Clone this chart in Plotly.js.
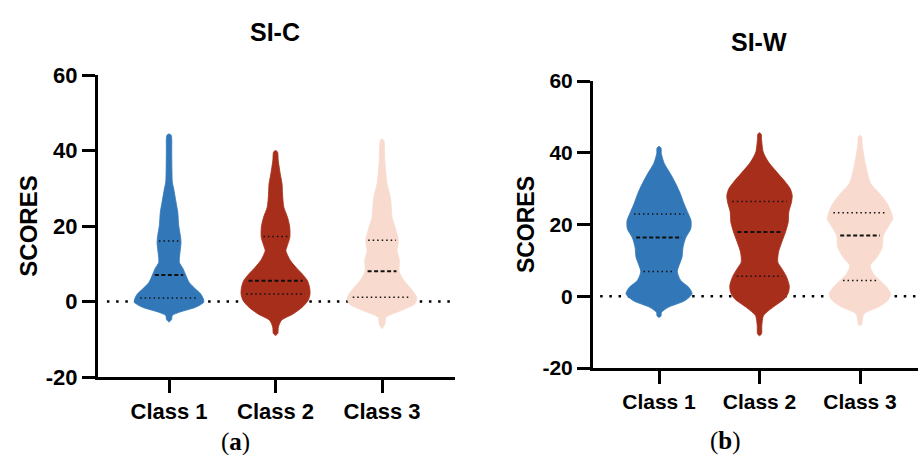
<!DOCTYPE html>
<html>
<head>
<meta charset="utf-8">
<script src="https://cdn.plot.ly/plotly-3.0.1.min.js"></script>
<style>html,body{margin:0;padding:0;background:#fff;}#chart{width:918px;height:455px;}</style>
</head>
<body>
<div id="chart"></div>
<script>
// ---------- DATA ----------
const classes = ['Class 1', 'Class 2', 'Class 3'];
const panelTitles = ['SI-C', 'SI-W'];
const captions = ['(<b>a</b>)', '(<b>b</b>)'];
const yTicks = [-20, 0, 20, 40, 60];
const yTickText = ['-20', '0', '20', '40', '60'];

// SI-C density profiles: score levels (top to bottom) and relative half-widths
const sicC1Level = [44.4, 44.1, 43, 40, 35, 31.6, 29.8, 26.3, 23.7, 20.1, 17.5, 15.7, 13.1, 10.4, 8.7, 7, 5.1, 3.35, 2, 0.9, -0.2, -1.5, -2.8, -3.7, -4.8, -5.5];
const sicC1Dens  = [0, 2, 2.7, 2.7, 2.9, 3.3, 4.7, 7, 8.7, 9.7, 11.3, 12, 11, 10.3, 14, 16.7, 20, 26.3, 31.7, 34, 34.7, 26.7, 10.8, 3.3, 2.5, 0];
const sicC2Level = [40, 39.6, 37.4, 33.8, 31.2, 28.5, 25, 22.3, 19.7, 17, 14.4, 13.5, 10.9, 9.1, 7.3, 5.6, 3.8, 2.0, 0.26, -1.5, -3.3, -5.0, -6.8, -8.5, -9.0];
const sicC2Dens  = [0, 2, 2.7, 4.7, 6.5, 7, 8.3, 12, 14.2, 14.3, 11.3, 10.3, 14.7, 20.3, 26.7, 31.7, 34, 34.5, 32.5, 26.7, 17.5, 5.8, 2.8, 2.2, 0];
const sicC3Level = [43.1, 42.6, 41.8, 36.5, 31.2, 27.6, 25, 22.3, 19.7, 16.2, 13.5, 10.9, 8, 5.6, 3.35, 1.15, -0.6, -2.4, -4.2, -6, -7.2];
const sicC3Dens  = [0, 1.8, 2.2, 3, 5, 8.3, 9.2, 10, 13, 16.3, 15, 17.3, 17, 21.7, 29, 34.5, 33, 19, 3.8, 2.8, 0];
const sicQ1     = [0.9, 2.0, 1.1];
const sicMedian = [7.0, 5.5, 8.0];
const sicQ3     = [16.0, 17.2, 16.2];

// SI-W density profiles
const siwC1Level = [41.8, 41.3, 39.8, 37, 34.2, 31.4, 28.6, 25.8, 23, 21.1, 18.8, 16.3, 13.7, 10.9, 6.9, 4.4, 2.5, 0.67, -1.2, -3.1, -4.5, -5.5, -5.9];
const siwC1Dens  = [0, 2, 2.3, 5.3, 11.3, 16.7, 21.3, 25, 29.3, 32, 31.7, 26.7, 24, 23, 18.3, 21.7, 29.7, 33, 26, 9.2, 2.5, 2, 0];
const siwC2Level = [45.6, 45.1, 44, 40.2, 37.4, 34.6, 31.8, 30, 28.1, 26.3, 23.5, 20.7, 17.9, 15.1, 12.3, 9.5, 7.7, 5.6, 3.0, 1.1, -0.7, -3.1, -5.4, -8.2, -10.5, -11];
const siwC2Dens  = [0, 1.8, 2, 3.7, 9, 17.3, 26, 30.7, 32.7, 32, 29.3, 28.7, 26, 22.3, 19, 18.3, 22.3, 26.7, 29.7, 29, 25, 13.3, 4, 2.3, 2, 0];
const siwC3Level = [44.9, 44.4, 42.6, 37, 31.4, 28.6, 25.8, 23.3, 21.6, 19.3, 16.9, 13.7, 10.9, 8.6, 6.3, 4.4, 2.5, 0.67, -1.2, -3.1, -4.9, -6.8, -7.8, -8.2];
const siwC3Dens  = [0, 1.8, 2, 5.3, 10.7, 19.7, 27.3, 31.3, 32.7, 28, 23.3, 22.3, 17, 10.3, 13.3, 20, 26.7, 30.7, 27.7, 17.5, 4, 2.2, 1.8, 0];
const siwQ1     = [6.9, 5.6, 4.4];
const siwMedian = [16.4, 17.9, 16.9];
const siwQ3     = [22.9, 26.4, 23.3];

const colors = ['#3278B8', '#A62E1B', '#F8DBCE'];

// ---------- BUILD ----------
const panels = [
  {levels: [sicC1Level, sicC2Level, sicC3Level], dens: [sicC1Dens, sicC2Dens, sicC3Dens],
   q1: sicQ1, med: sicMedian, q3: sicQ3, xa: 'x', ya: 'y', scale: 1 / 106.5},
  {levels: [siwC1Level, siwC2Level, siwC3Level], dens: [siwC1Dens, siwC2Dens, siwC3Dens],
   q1: siwQ1, med: siwMedian, q3: siwQ3, xa: 'x2', ya: 'y2', scale: 1 / 100.5}
];

function interp(lv, dn, q) {
  for (let k = 0; k < lv.length - 1; k++) {
    const a = lv[k], b = lv[k + 1];
    if ((q <= a && q >= b)) {
      const t = (a - q) / (a - b);
      return dn[k] + t * (dn[k + 1] - dn[k]);
    }
  }
  return 0;
}

const traces = [];
panels.forEach(p => {
  classes.forEach((c, i) => {
    const lv = p.levels[i], dn = p.dens[i];
    const xs = [], ys = [];
    for (let k = 0; k < lv.length; k++) { xs.push(i + dn[k] * p.scale); ys.push(lv[k]); }
    for (let k = lv.length - 1; k >= 0; k--) { xs.push(i - dn[k] * p.scale); ys.push(lv[k]); }
    traces.push({
      type: 'scatter', mode: 'lines', x: xs, y: ys, fill: 'toself',
      fillcolor: colors[i], line: {color: colors[i], width: 0.8, shape: 'spline', smoothing: 0.7},
      xaxis: p.xa, yaxis: p.ya, hoverinfo: 'skip', showlegend: false, name: c
    });
  });
  classes.forEach((c, i) => {
    const lv = p.levels[i], dn = p.dens[i];
    const stats = [[p.q1[i], '1.5px,3px', 1.5], [p.med[i], '4px,2.5px', 2], [p.q3[i], '1.5px,3px', 1.5]];
    stats.forEach(([q, dash, w]) => {
      const hw = interp(lv, dn, q) * p.scale * 0.85;
      traces.push({
        type: 'scatter', mode: 'lines', x: [i - hw, i + hw], y: [q, q],
        line: {color: '#111', width: w, dash: dash},
        xaxis: p.xa, yaxis: p.ya, hoverinfo: 'skip', showlegend: false
      });
    });
  });
});

const FONT = 'Liberation Sans, Arial, Helvetica, sans-serif';
function xAxis(domain, range, size) {
  return {
    domain: domain, range: range, tickmode: 'array', tickvals: [0, 1, 2], ticktext: classes,
    showline: true, linewidth: 3, linecolor: '#000', ticks: 'outside', ticklen: 13, tickwidth: 3,
    tickcolor: '#000', showgrid: false, zeroline: false, fixedrange: true,
    tickfont: {family: FONT, size: size, color: '#000', weight: 'bold'}
  };
}
function yAxis(domain, anchor, size, tsize) {
  return {
    domain: domain, anchor: anchor, range: [-20, 60], tickmode: 'array', tickvals: yTicks, ticktext: yTickText,
    showline: true, linewidth: 3, linecolor: '#000', ticks: 'outside', ticklen: 13, tickwidth: 3,
    tickcolor: '#000', showgrid: false, zeroline: false, fixedrange: true,
    tickfont: {family: FONT, size: size, color: '#000', weight: 'bold'},
    title: {text: 'SCORES', font: {family: FONT, size: tsize, color: '#000', weight: 'bold'}, standoff: 2}
  };
}

const layout = {
  width: 918, height: 455, margin: {l: 0, r: 0, t: 0, b: 0},
  paper_bgcolor: '#fff', plot_bgcolor: 'rgba(0,0,0,0)', showlegend: false,
  xaxis: Object.assign(xAxis([98 / 918, 455 / 918], [-0.667, 2.685], 22), {anchor: 'y'}),
  yaxis: yAxis([1 - 377 / 455, 1 - 75 / 455], 'x', 22, 24),
  xaxis2: Object.assign(xAxis([593 / 918, 1], [-0.657, 2.577], 21), {anchor: 'y2'}),
  yaxis2: yAxis([1 - 368 / 455, 1 - 81 / 455], 'x2', 21, 23),
  shapes: [
    {type: 'line', xref: 'x domain', yref: 'y', x0: 0.025, x1: 1, y0: 0, y1: 0, layer: 'below',
     line: {color: '#000', width: 2.5, dash: '2.5px,6.7px'}},
    {type: 'line', xref: 'x2 domain', yref: 'y2', x0: 0.022, x1: 1, y0: 0, y1: 0, layer: 'below',
     line: {color: '#000', width: 2.5, dash: '2.5px,6.7px'}}
  ],
  annotations: [
    {text: panelTitles[0], xref: 'paper', yref: 'paper', x: 275 / 918, y: 1 - 32 / 455, xanchor: 'center', yanchor: 'middle',
     showarrow: false, font: {family: FONT, size: 25, color: '#000', weight: 'bold'}},
    {text: panelTitles[1], xref: 'paper', yref: 'paper', x: 759 / 918, y: 1 - 42 / 455, xanchor: 'center', yanchor: 'middle',
     showarrow: false, font: {family: FONT, size: 25, color: '#000', weight: 'bold'}},
    {text: captions[0], xref: 'paper', yref: 'paper', x: 235 / 918, y: 1 - 442 / 455, xanchor: 'center', yanchor: 'middle',
     showarrow: false, font: {family: 'Liberation Serif, Times New Roman, serif', size: 25, color: '#000'}},
    {text: captions[1], xref: 'paper', yref: 'paper', x: 725 / 918, y: 1 - 441 / 455, xanchor: 'center', yanchor: 'middle',
     showarrow: false, font: {family: 'Liberation Serif, Times New Roman, serif', size: 25, color: '#000'}}
  ]
};

Plotly.newPlot('chart', traces, layout, {displayModeBar: false, staticPlot: true});
</script>
</body>
</html>
